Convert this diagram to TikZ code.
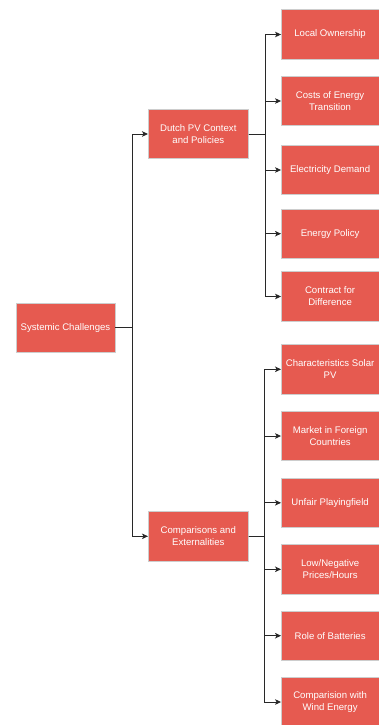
\documentclass[tikz,border=0pt]{standalone}
\usepackage{fontspec}
\setmainfont{Liberation Sans}
\usetikzlibrary{arrows.meta}
\definecolor{boxred}{RGB}{230,90,80}
\definecolor{boxedge}{RGB}{205,205,205}
\definecolor{wire}{RGB}{40,40,40}
\begin{document}
\begin{tikzpicture}[x=1pt,y=1pt,
  box/.style={draw=boxedge, line width=0.6pt, fill=boxred, text=white,
    font=\fontsize{9.6}{12}\selectfont, align=center, inner sep=0pt,
    minimum height=49.5pt},
  rootbox/.style={box, minimum width=99pt},
  midbox/.style={box, minimum width=100pt},
  leafbox/.style={box, minimum width=97.5pt},
  conn/.style={draw=wire, line width=0.9pt,
    -{Stealth[length=6pt,width=5.5pt,inset=1.5pt]}}]
\useasboundingbox (0,0) rectangle (379,-725);
\clip (0,0) rectangle (379,-725);

% root and the two branches
\node[rootbox] (root) at (65.5,-327.8) {Systemic Challenges};
\node[midbox] (dutch) at (198.3,-134) {Dutch PV Context\\and Policies};
\node[midbox] (comp) at (198.3,-536.3) {Comparisons and\\Externalities};

% leaves of the first branch
\node[leafbox] (lo) at (330.1,-34.5) {Local Ownership};
\node[leafbox] (ce) at (330.1,-101) {Costs of Energy\\Transition};
\node[leafbox] (ed) at (330.1,-170) {Electricity Demand};
\node[leafbox] (ep) at (330.1,-233.7) {Energy Policy};
\node[leafbox] (cd) at (330.1,-296.5) {Contract for\\Difference};

% leaves of the second branch
\node[leafbox] (cs) at (330.1,-369.3) {Characteristics Solar\\PV};
\node[leafbox] (mf) at (330.1,-436) {Market in Foreign\\Countries};
\node[leafbox] (up) at (330.1,-502.8) {Unfair Playingfield};
\node[leafbox] (ln) at (330.1,-569.3) {Low/Negative\\Prices/Hours};
\node[leafbox] (rb) at (330.1,-635.7) {Role of Batteries};
\node[leafbox] (cw) at (330.1,-702) {Comparision with\\Wind Energy};

% elbow connectors
\draw[conn] (root.east) -- ++(17,0) |- (dutch.west);
\draw[conn] (root.east) -- ++(17,0) |- (comp.west);
\foreach \t in {lo,ce,ed,ep,cd}
  \draw[conn] (dutch.east) -- ++(16.5,0) |- (\t.west);
\foreach \t in {cs,mf,up,ln,rb,cw}
  \draw[conn] (comp.east) -- ++(16.2,0) |- (\t.west);
\end{tikzpicture}
\end{document}
